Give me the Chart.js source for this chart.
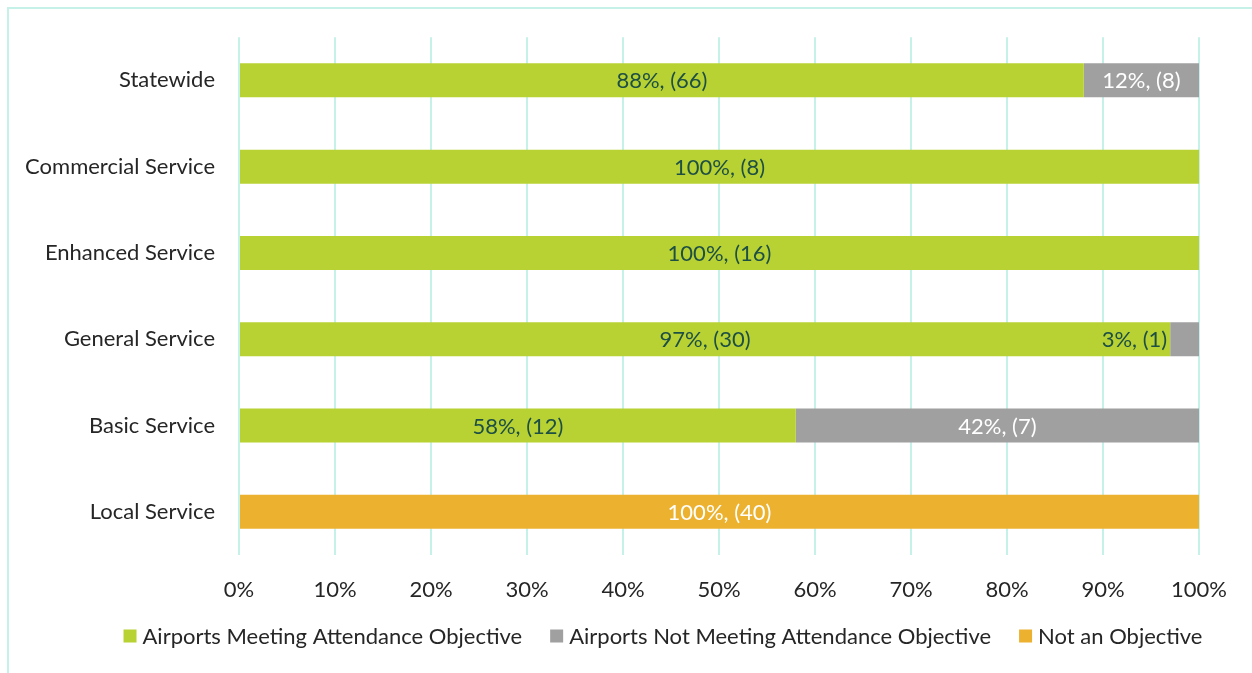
<!DOCTYPE html>
<html>
<head>
<meta charset="utf-8">
<script src="https://cdn.jsdelivr.net/npm/chart.js@4"></script>
<style>
  html, body { margin: 0; padding: 0; background: #fff; }
  #wrap { width: 1252px; height: 673px; position: relative; }
</style>
</head>
<body>
<div id="wrap"><canvas id="chart" width="1252" height="673"></canvas></div>
<script>
const categories = ['Statewide', 'Commercial Service', 'Enhanced Service', 'General Service', 'Basic Service', 'Local Service'];
const meetingPct = [88, 100, 100, 97, 58, 0];
const meetingCount = [66, 8, 16, 30, 12, 0];
const notMeetingPct = [12, 0, 0, 3, 42, 0];
const notMeetingCount = [8, 0, 0, 1, 7, 0];
const notObjectivePct = [0, 0, 0, 0, 0, 100];
const notObjectiveCount = [0, 0, 0, 0, 0, 40];
const xTicks = [0, 10, 20, 30, 40, 50, 60, 70, 80, 90, 100];

const FONT = 'Lato, "Open Sans", sans-serif';
const FONT_SIZE = 22;
const GRID = '#c6f1e8';
const TEXT = '#262626';

// labels like "88%, (66)" inside each segment
const segmentLabels = {
    id: 'segmentLabels',
    afterDatasetsDraw(chart) {
        const ctx = chart.ctx;
        ctx.save();
        ctx.font = FONT_SIZE + 'px ' + FONT;
        ctx.textBaseline = 'middle';
        chart.data.datasets.forEach((ds, di) => {
            const meta = chart.getDatasetMeta(di);
            meta.data.forEach((bar, i) => {
                const v = ds.data[i];
                if (!v) return;
                const text = v + '%, (' + ds.counts[i] + ')';
                const left = Math.min(bar.x, bar.base);
                const w = Math.abs(bar.x - bar.base);
                const tw = ctx.measureText(text).width;
                if (tw + 6 > w) {
                    // too small: put it just left of the segment
                    ctx.fillStyle = '#1e4f45';
                    ctx.textAlign = 'right';
                    ctx.fillText(text, left - 3, bar.y + 1);
                } else {
                    ctx.fillStyle = ds.labelColor;
                    ctx.textAlign = 'center';
                    ctx.fillText(text, left + w / 2, bar.y + 1);
                }
            });
        });
        ctx.restore();
    }
};

// one-row legend under the axis, centred like the original
const bottomLegend = {
    id: 'bottomLegend',
    afterDraw(chart) {
        const ctx = chart.ctx;
        const box = 13, gap = 6, spacing = 28, centerX = 663, y = 636;
        ctx.save();
        ctx.font = FONT_SIZE + 'px ' + FONT;
        ctx.textBaseline = 'middle';
        ctx.textAlign = 'left';
        const items = chart.data.datasets.map(ds => ({
            text: ds.label,
            color: ds.backgroundColor,
            w: box + gap + ctx.measureText(ds.label).width
        }));
        const total = items.reduce((s, it) => s + it.w, 0) + spacing * (items.length - 1);
        let x = centerX - total / 2;
        items.forEach(it => {
            ctx.fillStyle = it.color;
            ctx.fillRect(x, y - box / 2, box, box);
            ctx.fillStyle = TEXT;
            ctx.fillText(it.text, x + box + gap, y + 1);
            x += it.w + spacing;
        });
        ctx.restore();
    }
};

// light frame round the chart
const frame = {
    id: 'frame',
    beforeDraw(chart) {
        const ctx = chart.ctx;
        ctx.save();
        ctx.strokeStyle = GRID;
        ctx.lineWidth = 2;
        ctx.strokeRect(8, 8, chart.width + 20, chart.height + 20);
        ctx.restore();
    }
};

new Chart(document.getElementById('chart'), {
    type: 'bar',
    data: {
        labels: categories,
        datasets: [
            {
                label: 'Airports Meeting Attendance Objective',
                data: meetingPct,
                counts: meetingCount,
                backgroundColor: '#b8d233',
                labelColor: '#1e4f45'
            },
            {
                label: 'Airports Not Meeting Attendance Objective',
                data: notMeetingPct,
                counts: notMeetingCount,
                backgroundColor: '#a0a0a0',
                labelColor: '#ffffff'
            },
            {
                label: 'Not an Objective',
                data: notObjectivePct,
                counts: notObjectiveCount,
                backgroundColor: '#ecb22f',
                labelColor: '#ffffff'
            }
        ]
    },
    options: {
        indexAxis: 'y',
        responsive: false,
        animation: false,
        devicePixelRatio: 1,
        layout: { padding: { top: 37, right: 53, left: 0, bottom: 66 } },
        datasets: {
            bar: { categoryPercentage: 1, barPercentage: 0.394 }
        },
        scales: {
            x: {
                stacked: true,
                min: 0,
                max: 100,
                afterBuildTicks: axis => { axis.ticks = xTicks.map(v => ({ value: v })); },
                border: { display: false },
                grid: { color: GRID, lineWidth: 2, drawTicks: false },
                ticks: {
                    padding: 22,
                    color: TEXT,
                    font: { family: FONT, size: FONT_SIZE },
                    callback: v => v + '%'
                },
                afterFit: axis => { axis.height = 52; }
            },
            y: {
                stacked: true,
                border: { display: false },
                grid: { display: false, drawTicks: false },
                ticks: {
                    padding: 24,
                    color: TEXT,
                    font: { family: FONT, size: FONT_SIZE }
                },
                afterFit: axis => { axis.width = 239; }
            }
        },
        plugins: {
            legend: { display: false },
            tooltip: { enabled: false }
        }
    },
    plugins: [frame, segmentLabels, bottomLegend]
});
</script>
</body>
</html>
